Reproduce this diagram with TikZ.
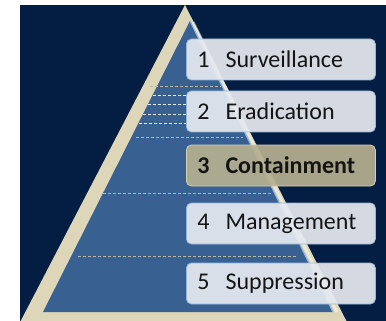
\documentclass[tikz,border=0pt]{standalone}
\usepackage{fontspec}
\setmainfont{Carlito}
\usetikzlibrary{positioning}
\definecolor{navy}{RGB}{3,30,66}
\definecolor{sand}{RGB}{221,214,184}
\definecolor{pyblue}{RGB}{56,96,145}
\definecolor{edgeblue}{RGB}{140,180,225}
\definecolor{boxgray}{RGB}{229,233,239}
\definecolor{boxline}{RGB}{150,182,218}
\definecolor{olive}{RGB}{180,175,143}
\definecolor{oliveline}{RGB}{212,207,178}

\begin{document}
\begin{tikzpicture}
            [x=1pt,y=-1pt,
             lvl/.style={draw=boxline, fill=boxgray, fill opacity=0.93, text opacity=1, rounded corners=5pt, line width=0.8pt, anchor=west, text width=167pt, align=left, inner xsep=11pt, inner ysep=0pt, minimum height=41pt, font=\fontsize{24}{28}\selectfont, text=black!92},
             sanddash/.style={draw=sand!85!black, line width=0.8pt, dash pattern=on 3pt off 2pt},
             whitedash/.style={draw=white!80!edgeblue, line width=0.6pt, dash pattern=on 3pt off 2pt}]
          \useasboundingbox (0,0) rectangle (386,321);
          \fill[navy] (20,5) rectangle (386,321);

          % pyramid
          \begin{scope}
            \clip (20,5) rectangle (386,321);
            \fill[sand] (185,5) -- (16,330) -- (351,330) -- cycle;
          \end{scope}
          \draw[white, opacity=0.45, line width=3pt] (193,22) -- (337,312);
          \fill[pyblue] (190,21) -- (43,312) -- (333,312) -- cycle;
          \draw[edgeblue, line width=1.2pt] (190,21) -- (333,312);

          \draw[sanddash] (150,86) -- (221,86);
          \draw[sanddash] (136,137) -- (243,137);
          \draw[sanddash] (103,193) -- (271,193);
          \draw[sanddash] (78,256) -- (297,256);
          \foreach \y/\x in {95/153, 104/148, 114/143, 123/139}
            \draw[whitedash] (\x,\y) -- (186,\y);

          % levels
          \node[lvl] (surv) at (186,59.5) {1~~Surveillance};
          \node[lvl] (erad) at (186,111.5) {2~~Eradication};
          \node[lvl, draw=oliveline, fill=olive, font=\fontsize{24}{28}\selectfont\bfseries] (cont) at (186,165.5) {3~~Containment};
          \node[lvl] (mgmt) at (186,223.5) {4~~Management};
          \node[lvl] (supp) at (186,283.5) {5~~Suppression};
        \end{tikzpicture}
\end{document}
